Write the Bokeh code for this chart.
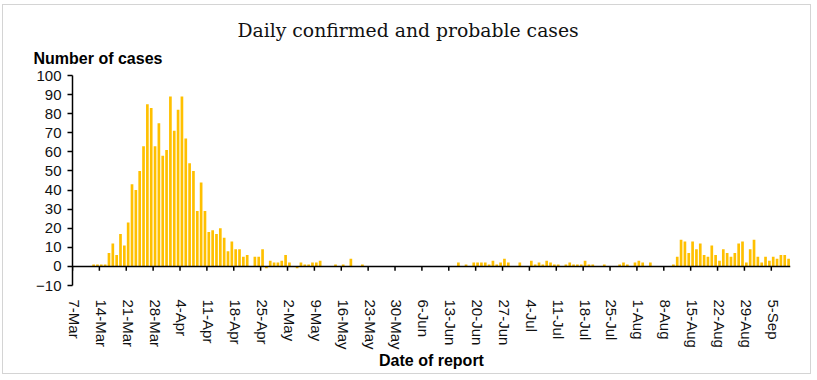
from bokeh.plotting import figure
from bokeh.models import FixedTicker, Span, Title, Range1d
from bokeh.embed import file_html
from bokeh.resources import INLINE

# Day index 0 = 7-Mar, one bar per day of report
day_index = list(range(187))
cases = [
    0, 0, 0, 0, 0,        1, 1, 1, 1, 7,
    12, 6, 17, 11, 23,    43, 40, 50, 63, 85,
    83, 63, 75, 58, 61,   89, 71, 82, 89, 67,
    54, 50, 29, 44, 29,   18, 19, 17, 20, 15,
    8, 13, 9, 9, 5,       6, 0, 5, 5, 9,
    -1, 3, 2, 2, 3,       6, 2, 0, -1, 2,
    1, 1, 2, 2, 3,        0, 0, 0, 1, 0,
    1, 0, 4, 0, 0,        1, 0, 0, 0, 0,
    0, 0, 0, 0, 0,        0, 0, 0, 0, 0,
    0, 0, 0, 0, 0,        0, 0, 0, 0, 0,
    2, 0, 1, 0, 2,        2, 2, 2, 1, 3,
    1, 2, 4, 2, 0,        0, 2, 0, 0, 3,
    1, 2, 1, 3, 2,        1, 1, 0, 1, 2,
    1, 1, 1, 3, 1,        1, 0, 0, 1, 0,
    0, 0, 1, 2, 1,        0, 2, 3, 2, 0,
    2, 0, 0, 0, 0,        0, 1, 5, 14, 13,
    7, 13, 9, 12, 6,      5, 11, 6, 3, 9,
    7, 5, 7, 12, 13,      2, 9, 14, 5, 2,
    5, 3, 5, 4, 6,        6, 4,
]

tick_days = list(range(0, 183, 7))
tick_labels = ["7-Mar", "14-Mar", "21-Mar", "28-Mar", "4-Apr", "11-Apr", "18-Apr",
               "25-Apr", "2-May", "9-May", "16-May", "23-May", "30-May", "6-Jun",
               "13-Jun", "20-Jun", "27-Jun", "4-Jul", "11-Jul", "18-Jul", "25-Jul",
               "1-Aug", "8-Aug", "15-Aug", "22-Aug", "29-Aug", "5-Sep"]
y_ticks = list(range(-10, 101, 10))

title_text = "Daily confirmed and probable cases"
y_title = "Number of cases"
x_title = "Date of report"

BAR = "#FFC000"
FONT = "Liberation Sans"

p = figure(width=807, height=368, output_backend="svg", toolbar_location=None,
           x_range=Range1d(day_index[0] - 0.5, day_index[-1] + 0.5),
           y_range=Range1d(y_ticks[0], y_ticks[-1]),
           min_border_left=69, min_border_right=20, min_border_top=70, min_border_bottom=88)
p.styles = {"margin-left": "3px", "margin-top": "5px", "outline": "1px solid #d4d4d4"}

p.background_fill_color = "white"
p.border_fill_color = "white"
p.outline_line_color = None
p.grid.visible = False

p.vbar(x=day_index, top=cases, bottom=0, width=0.7, fill_color=BAR, line_color=None)

# x axis line at zero with its tick marks at week boundaries
p.add_layout(Span(location=0, dimension="width", line_color="black", line_width=1.5))
p.segment(x0=[d - 0.5 for d in tick_days], y0=0, x1=[d - 0.5 for d in tick_days], y1=-2.3,
          line_color="black", line_width=1.5)

xa = p.xaxis[0]
xa.ticker = FixedTicker(ticks=tick_days)
xa.major_label_overrides = {d: lbl for d, lbl in zip(tick_days, tick_labels)}
xa.major_label_orientation = "vertical"
xa.axis_line_color = None
xa.major_tick_line_color = None
xa.minor_tick_line_color = None
xa.major_label_standoff = 8
xa.major_label_text_font = FONT
xa.major_label_text_font_size = "15px"
xa.major_label_text_color = "#111111"
xa.axis_label = x_title
xa.axis_label_text_font = FONT
xa.axis_label_text_font_size = "16px"
xa.axis_label_text_font_style = "bold"
xa.axis_label_text_color = "black"
xa.axis_label_standoff = -1

ya = p.yaxis[0]
ya.ticker = FixedTicker(ticks=y_ticks)
ya.axis_line_color = "black"
ya.axis_line_width = 1.5
ya.major_tick_out = 5
ya.major_tick_in = 0
ya.major_tick_line_width = 1.5
ya.minor_tick_line_color = None
ya.major_label_standoff = 6
ya.major_label_text_font = FONT
ya.major_label_text_font_size = "15px"
ya.major_label_text_color = "#111111"

p.add_layout(Title(text=y_title, align="left", offset=-39, text_font=FONT,
                   text_font_size="16px", text_font_style="bold", text_color="black",
                   standoff=18), "above")
p.add_layout(Title(text=title_text, align="left", offset=165, text_font="DejaVu Serif",
                   text_font_size="18.8px", text_font_style="normal", text_color="#111111",
                   standoff=-4), "above")

open("out.html", "w").write(file_html(p, INLINE))
